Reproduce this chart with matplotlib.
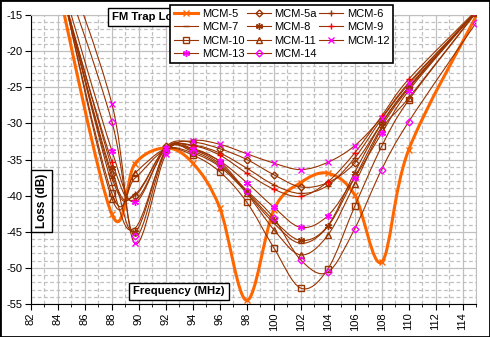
import numpy as np
import matplotlib
matplotlib.use('Agg')
import matplotlib.pyplot as plt
from matplotlib.path import Path
from matplotlib.patches import PathPatch, Rectangle
from matplotlib.lines import Line2D

plt.rcParams['font.family'] = ['Liberation Sans', 'DejaVu Sans']
plt.rcParams['axes.unicode_minus'] = False

# measured frequencies (MHz) and loss (dB) for each trap
freq = [84, 88, 89.7, 92, 94, 96, 98, 100, 102, 104, 106, 108, 110, 115]

mcm5  = [-11.0, -42.6, -35.6, -33.4, -35.5, -41.7, -54.5, -42.0, -38.2, -36.9, -39.9, -49.2, -33.7, -15.2]
mcm5a = [-9.5, -37.0, -40.0, -33.2, -32.6, -33.5, -35.0, -37.1, -38.8, -38.2, -35.5, -30.0, -25.0, -14.6]
mcm6  = [-9.3, -37.5, -39.8, -33.4, -33.0, -34.1, -36.2, -38.5, -39.7, -38.6, -34.8, -29.4, -24.6, -14.5]
mcm7  = [-9.0, -38.5, -44.5, -33.8, -33.7, -35.6, -39.6, -43.8, -46.6, -44.3, -37.5, -30.5, -25.2, -14.5]
mcm8  = [-9.5, -36.2, -45.0, -33.6, -33.5, -35.3, -39.4, -43.4, -46.2, -44.2, -36.8, -30.0, -25.0, -14.5]
mcm9  = [-10.0, -35.3, -40.6, -33.5, -33.1, -34.4, -36.9, -39.1, -40.1, -38.1, -34.1, -29.0, -23.9, -14.4]
mcm10 = [-9.0, -39.7, -37.6, -33.6, -34.4, -36.7, -40.9, -47.2, -52.8, -50.2, -41.5, -33.2, -26.8, -14.7]
mcm11 = [-8.8, -40.4, -36.9, -33.5, -34.1, -36.0, -39.7, -44.7, -48.2, -45.5, -38.4, -30.8, -26.5, -14.6]
mcm12 = [-4.9, -27.3, -46.6, -34.3, -32.4, -32.9, -34.2, -35.5, -36.4, -35.4, -33.1, -29.2, -24.4, -14.6]
mcm13 = [-8.7, -33.8, -40.9, -33.4, -33.6, -35.2, -38.2, -41.6, -44.4, -42.8, -37.5, -31.4, -25.5, -14.5]
mcm14 = [-7.0, -29.8, -45.6, -33.9, -33.9, -35.8, -39.3, -43.1, -48.9, -50.6, -44.6, -36.4, -29.8, -16.1]

names = ['MCM-5', 'MCM-5a', 'MCM-6', 'MCM-7', 'MCM-8', 'MCM-9',
         'MCM-10', 'MCM-11', 'MCM-12', 'MCM-13', 'MCM-14']
loss = [mcm5, mcm5a, mcm6, mcm7, mcm8, mcm9, mcm10, mcm11, mcm12, mcm13, mcm14]

ORANGE = '#FF6600'
BROWN = '#993300'
MAG = '#FF00FF'
ast = (6, 2, 0)
# (line colour, line width, marker, marker edge colour, marker size)
styles = [
    (ORANGE, 2.2, 'x', ORANGE, 4),
    (BROWN, 0.8, 'D', BROWN, 3.5),
    (BROWN, 0.8, '+', BROWN, 5),
    (BROWN, 0.8, '_', BROWN, 5),
    (BROWN, 0.8, ast, BROWN, 5),
    (BROWN, 0.8, '+', '#FF0000', 5),
    (BROWN, 0.8, 's', BROWN, 4.5),
    (BROWN, 0.8, '^', BROWN, 4.5),
    (BROWN, 0.8, 'x', MAG, 4),
    (BROWN, 0.8, ast, MAG, 5),
    (BROWN, 0.8, 'D', MAG, 3.5),
]


def smooth_path(xs, ys):
    # excel style smoothed line: cubic bezier through every point
    pts = np.column_stack([xs, ys]).astype(float)
    n = len(pts)
    verts = [pts[0]]
    codes = [Path.MOVETO]
    for i in range(n - 1):
        p0 = pts[max(i - 1, 0)]
        p1 = pts[i]
        p2 = pts[i + 1]
        p3 = pts[min(i + 2, n - 1)]
        verts += [p1 + (p2 - p0) / 6, p2 - (p3 - p1) / 6, p2]
        codes += [Path.CURVE4] * 3
    return Path(verts, codes)


fig = plt.figure(figsize=(4.9, 3.37), dpi=100)
ax = fig.add_axes([31 / 490, 33 / 337, 445 / 490, 289 / 337])

handles = []
for name, y, (lc, lw, mk, mc, ms) in zip(names, loss, styles):
    ax.add_patch(PathPatch(smooth_path(freq, y), facecolor='none',
                           edgecolor=lc, lw=lw, zorder=3))
    filled = mk in ('x', '+', '_', ast)
    ax.plot(freq, y, ls='none', marker=mk, ms=ms, mec=mc,
            mfc=mc if filled else 'none', mew=1.0, zorder=4)
    handles.append(Line2D([], [], color=lc, lw=lw, marker=mk, ms=ms, mec=mc,
                          mfc=mc if filled else 'none', mew=1.0))

ax.set_xlim(82, 115)
ax.set_ylim(-55, -15)
ax.set_xticks(np.arange(82, 115, 2))
ax.set_xticks(np.arange(82, 116, 1), minor=True)
ax.set_yticks(np.arange(-55, -14, 5))
ax.set_yticks(np.arange(-55, -14, 1), minor=True)
ax.tick_params(axis='x', which='major', direction='out', length=4,
               labelrotation=90, labelsize=8, pad=2)
ax.tick_params(axis='x', which='minor', direction='out', length=2)
ax.tick_params(axis='y', which='major', direction='out', length=4,
               labelsize=8, pad=2)
ax.tick_params(axis='y', which='minor', length=0)
ax.grid(which='major', color='#C0C0C0', lw=0.9, ls='-')
ax.grid(which='minor', color='#C0C0C0', lw=0.9, ls=(0, (3, 2)))
ax.set_axisbelow(True)
for s in ['top', 'right']:
    ax.spines[s].set_color('#C0C0C0')
for s in ['left', 'bottom']:
    ax.spines[s].set_color('black')

box = dict(boxstyle='square,pad=0.35', fc='white', ec='black', lw=1)
fig.text(112 / 490, 1 - 17 / 337, 'FM Trap Loss', fontsize=8.2,
         fontweight='bold', ha='left', va='center', bbox=box, zorder=3)
fig.text(41.5 / 490, 1 - 201 / 337, 'Loss (dB)', fontsize=8.5,
         fontweight='bold', rotation=90, ha='center', va='center', bbox=box)
fig.text(179 / 490, 1 - 291.5 / 337, 'Frequency (MHz)', fontsize=8.2,
         fontweight='bold', ha='center', va='center', bbox=box)

# excel fills the legend row by row
order = [0, 3, 6, 9, 1, 4, 7, 10, 2, 5, 8]
leg = fig.legend([handles[i] for i in order], [names[i] for i in order],
                 ncol=3, loc='upper left', bbox_to_anchor=(170 / 490, 1 - 5 / 337),
                 fontsize=8, handlelength=2.2, handletextpad=0.3,
                 columnspacing=0.2, labelspacing=0.3, borderpad=0.35,
                 borderaxespad=0, fancybox=False, framealpha=1)
leg.get_frame().set_edgecolor('black')
leg.get_frame().set_linewidth(1.2)
leg.set_zorder(10)

fig.patches.append(Rectangle((0, 0), 1, 1, transform=fig.transFigure,
                             fill=False, ec='black', lw=2))

fig.savefig('out.png', dpi=100)
